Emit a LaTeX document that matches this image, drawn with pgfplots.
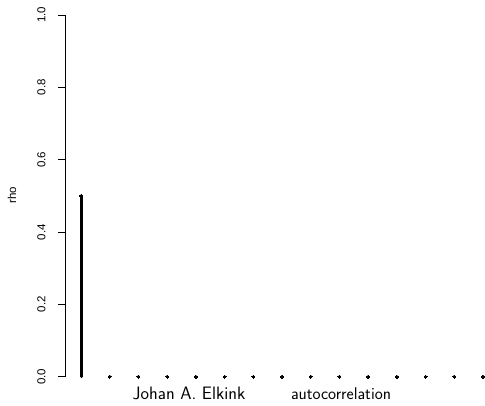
\documentclass[border=0pt]{standalone}
\usepackage{fontspec}
\setmainfont{Liberation Sans}
\usepackage{pgfplots}
\pgfplotsset{compat=1.18}
\begin{document}
\begin{tikzpicture}[x=1pt,y=1pt]
\begin{axis}[
  at={(0,0)}, anchor=south west,
  scale only axis,
  width=420pt, height=361.7pt,
  xmin=-0.56, xmax=14.07,
  ymin=0, ymax=1,
  enlarge y limits=false,
  clip=false,
  axis x line=none,
  axis y line=left,
  axis line style={-, line width=0.6pt},
  ytick={0,0.2,0.4,0.6,0.8,1.0},
  tick align=outside,
  major tick length=7pt,
  every tick/.style={line width=0.6pt, black},
  /pgf/number format/assume math mode=true,
  yticklabel style={xshift=-9pt, rotate=90, anchor=south, font=\fontsize{11.5}{13}\selectfont,
    /pgf/number format/fixed, /pgf/number format/fixed zerofill, /pgf/number format/precision=1},
]
\addplot[ycomb, black, line width=3pt, line cap=round, mark=*, mark size=1.5pt, mark options={black, line width=0pt}]
coordinates {
(0,0.5) (1,0) (2,0) (3,0) (4,0) (5,0) (6,0) (7,0) (8,0) (9,0) (10,0) (11,0) (12,0) (13,0) (14,0)
};
\end{axis}
\node[rotate=90, font=\fontsize{11.5}{13}\selectfont] at (-53,181.7) {rho};
\node[anchor=base, font=\sffamily\fontsize{18}{20}\selectfont] at (124,-23) {Johan A. Elkink};
\node[anchor=base, font=\sffamily\fontsize{17}{19}\selectfont] at (276,-23) {autocorrelation};
\pgfresetboundingbox
\useasboundingbox (-65,-29.3) rectangle (420,376.7);
\end{tikzpicture}
\end{document}
